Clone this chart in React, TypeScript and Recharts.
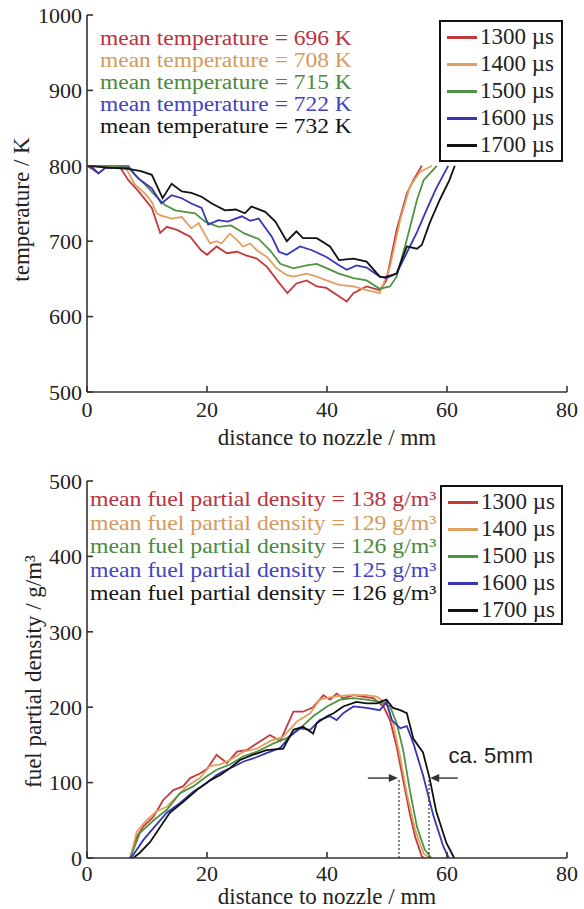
import React from "react";
import {
    LineChart,
    Line,
    XAxis,
    YAxis,
    Legend,
    ReferenceLine,
    ReferenceDot,
} from "recharts";

const SERIF = '"Liberation Serif", "DejaVu Serif", "Noto Serif", serif';
const SANS = '"Liberation Sans", Arial, sans-serif';

const durations = ["1300 µs", "1400 µs", "1500 µs", "1600 µs", "1700 µs"];
const lineColors = ["#c43a3c", "#e0a060", "#4e9443", "#3636b6", "#111111"];
const textColors = ["#b8333d", "#d49a5c", "#4b8a3d", "#4343c2", "#141414"];
const meanTemperatures = [696, 708, 715, 722, 732];
const meanDensities = [138, 129, 126, 125, 126];

const xTicks = [0, 20, 40, 60, 80];
const temperatureTicks = [500, 600, 700, 800, 900, 1000];
const densityTicks = [0, 100, 200, 300, 400, 500];

// [distance mm, temperature K]
const temp1300: [number, number][] = [
    [0, 800], [1, 795], [1.9, 790], [3, 797], [5.5, 798], [6.9, 781], [8.6, 766],
    [10.8, 744], [12.2, 711], [13.3, 719], [15, 715], [16.2, 710], [17.2, 706],
    [19, 688], [20, 682], [21.6, 693], [23.3, 684], [25, 686], [26.6, 681],
    [28.3, 677], [30, 666], [31.6, 649], [33.4, 631], [34.9, 644], [36.6, 648],
    [38.3, 640], [39.9, 638], [41.6, 629], [43.3, 620], [44.4, 631], [46.6, 640],
    [48.8, 635], [49.9, 648], [51.6, 715], [53.3, 763], [54.4, 781], [55.8, 800],
];
const temp1400: [number, number][] = [
    [0, 800], [3, 800], [6.3, 800], [8, 775], [9.7, 763], [10.8, 752], [11.6, 737],
    [12.4, 734], [14.1, 730], [15.8, 732], [17.4, 717], [18.6, 724], [19.7, 708],
    [20.5, 697], [21.6, 700], [22.4, 697], [23.8, 710], [24.8, 703], [26, 693],
    [27.2, 697], [28.3, 688], [30, 679], [31.6, 664], [33.3, 655], [34.4, 653],
    [36.6, 657], [38.3, 653], [39.9, 648], [42, 642], [44.4, 640], [46.6, 635],
    [48.8, 631], [50.5, 666], [52.2, 728], [53.8, 772], [55.5, 792], [57.5, 800],
];
const temp1500: [number, number][] = [
    [0, 800], [3, 800], [6.9, 800], [8, 788], [9.7, 775], [11.3, 761], [13, 748],
    [14.7, 741], [16.3, 739], [18, 737], [19.7, 726], [21.9, 719], [24, 721],
    [26.3, 710], [28.6, 703], [30.5, 688], [32.2, 670], [34.4, 664], [36.6, 668],
    [38.3, 670], [40, 664], [42, 657], [44.4, 651], [46.6, 648], [48.8, 637],
    [50.5, 640], [51.6, 653], [53.3, 702], [55, 755], [56.1, 781], [58.3, 800],
];
const temp1600: [number, number][] = [
    [0, 800], [1, 797], [1.9, 790], [3, 797], [6.9, 798], [8.6, 783], [10.8, 770],
    [12.4, 750], [14.1, 761], [15.8, 757], [17.4, 750], [19.1, 744], [20.2, 722],
    [21.9, 728], [23.5, 726], [25.8, 733], [27.2, 727], [28.6, 730], [30.8, 706],
    [32, 686], [33.3, 682], [35.5, 693], [37.5, 688], [39.9, 679], [42, 668],
    [43.3, 662], [44.9, 668], [46.6, 665], [48.8, 653], [49.9, 651], [51.6, 657],
    [53.5, 688], [55, 712], [56.5, 740], [58.2, 770], [60.2, 800],
];
const temp1700: [number, number][] = [
    [0, 800], [3, 798], [6.9, 796], [9, 793], [10.8, 788], [12.6, 757], [14.1, 776],
    [15.8, 766], [17.4, 764], [19.1, 759], [20.8, 750], [23, 741], [24.8, 742],
    [26.3, 737], [27.4, 746], [29.7, 739], [31.4, 726], [33.3, 700], [34.9, 713],
    [36, 704], [38.3, 704], [40.5, 693], [42, 675], [44.4, 677], [46.6, 673],
    [48.8, 653], [49.6, 652], [51.6, 657], [53.3, 693], [55, 690], [55.8, 695],
    [57.1, 724], [58.8, 755], [60.4, 781], [61.3, 800],
];

// [distance mm, fuel partial density g/m³]
const dens1300: [number, number][] = [
    [7.2, 0], [8.3, 28], [9.4, 42], [11.1, 55], [12.7, 77], [14.4, 90], [16, 95],
    [17.2, 106], [18.8, 112], [20, 118], [21.6, 137], [23.3, 126], [25, 141],
    [26.6, 143], [28.3, 152], [30.5, 163], [32.2, 155], [34.4, 194], [36, 194],
    [37.7, 200], [39.4, 216], [40.5, 210], [41.6, 218], [42.7, 212], [44.4, 216],
    [46, 214], [47.7, 212], [49.4, 201], [50.5, 183], [51.6, 148], [52.7, 103],
    [53.8, 59], [54.7, 28], [55.8, 2], [56.2, 0],
];
const dens1400: [number, number][] = [
    [7.2, 0], [8.3, 35], [9.9, 50], [11.6, 62], [13.3, 68], [14.9, 81], [16.6, 95],
    [18.8, 106], [20.5, 122], [22.2, 124], [23.8, 130], [26.1, 141], [28.3, 145],
    [30.5, 155], [32.7, 161], [35, 181], [37.2, 192], [38.8, 210], [41.1, 214],
    [43.8, 216], [46.6, 216], [48.3, 214], [49.9, 205], [51, 179], [52.2, 134],
    [53.3, 86], [54.7, 37], [56.1, 6], [57, 0],
];
const dens1500: [number, number][] = [
    [7.2, 0], [8.8, 33], [11.1, 50], [13.3, 64], [15.5, 86], [17.7, 95], [19.9, 108],
    [21.6, 117], [23.8, 124], [26.1, 135], [28.3, 141], [31.1, 152], [33.3, 159],
    [35.5, 172], [37.7, 188], [40, 201], [42.2, 210], [44.4, 212], [46.6, 210],
    [48.8, 207], [50.5, 201], [51.6, 179], [52.7, 143], [53.8, 90], [55, 41],
    [56.3, 11], [57.4, 0],
];
const dens1600: [number, number][] = [
    [7.2, 0], [7.7, 4], [9.4, 24], [11.1, 40], [13.3, 60], [15.5, 73], [17.7, 88],
    [19.9, 99], [21.6, 110], [22.7, 115], [24.4, 121], [26.1, 128], [27.7, 132],
    [29.9, 139], [32.2, 146], [33.8, 161], [35.5, 172], [37.2, 170], [38.8, 183],
    [40.5, 188], [41.6, 183], [42.7, 192], [44.4, 201], [46.6, 199], [48.8, 196],
    [49.9, 207], [50.8, 183], [52.2, 172], [53.3, 175], [54.4, 152], [56, 110],
    [57.7, 57], [59.4, 15], [60.3, 0],
];
const dens1700: [number, number][] = [
    [7.2, 0], [7.7, 0], [8.8, 7], [10.5, 21], [12.2, 41], [13.8, 60], [16.1, 75],
    [18.3, 90], [20.5, 103], [22.2, 110], [23.8, 119], [25.5, 130], [27.7, 137],
    [29.9, 143], [32.7, 145], [34.4, 170], [36, 174], [37.7, 165], [38.3, 179],
    [40, 188], [41.1, 192], [42.7, 201], [44.9, 207], [46.6, 205], [48.3, 205],
    [49.9, 210], [51, 199], [52.2, 196], [53.3, 192], [54.4, 158], [56, 140],
    [57.1, 106], [58.2, 62], [59.9, 20], [61.2, 0],
];

const temperatureSeries = [temp1300, temp1400, temp1500, temp1600, temp1700];
const densitySeries = [dens1300, dens1400, dens1500, dens1600, dens1700];

const toPoints = (rows: [number, number][]) => rows.map(([x, y]) => ({ x, y }));

const tickStyle = { fill: "#222", fontSize: 22, fontFamily: SERIF };
const titleStyle = { fill: "#222", fontSize: 23, fontFamily: SERIF };
const frame = { stroke: "#333", strokeWidth: 1.6 };

function XTitle({ viewBox, text, offset }: any) {
    const { x, y, width, height } = viewBox;
    return (
        <text x={x + width / 2} y={y + height - offset} textAnchor="middle" style={titleStyle}>
            {text}
        </text>
    );
}

function YTitle({ viewBox, text, baseX, shift }: any) {
    const { x, y, height } = viewBox;
    const cx = x + baseX;
    const cy = y + height / 2 + shift;
    return (
        <text x={cx} y={cy} textAnchor="middle" transform={`rotate(-90, ${cx}, ${cy})`} style={titleStyle}>
            {text}
        </text>
    );
}

function Arrow({ x1, y1, x2, y2 }: any) {
    const dir = x2 > x1 ? 1 : -1;
    return (
        <g>
            <line x1={x1} y1={y1} x2={x2 - dir * 2} y2={y2} stroke="#333" strokeWidth={1.4} />
            <polygon
                points={`${x2},${y2} ${x2 - dir * 9},${y2 - 4} ${x2 - dir * 9},${y2 + 4}`}
                fill="#333"
            />
        </g>
    );
}

interface LegendLayout {
    meanLines: string[];
    meanLeft: number;
    meanBase: number;
    meanGap: number;
    meanSize: number;
    meanStretch: number;
    box: { left: number; top: number; width: number; height: number };
    entryBase: number;
    entryGap: number;
    sampleLeft: number;
    textLeft: number;
}

function LegendBlock({ payload, layout }: { payload: any[]; layout: LegendLayout }) {
    const items = payload && payload.length ? payload : durations.map((d, i) => ({ value: d, color: lineColors[i] }));
    const { box } = layout;
    const lh = Math.floor(layout.meanSize);
    // baseline offset inside a line box of height lh (Times metrics)
    const baseOffset = (lh - 1.107 * layout.meanSize) / 2 + 0.891 * layout.meanSize;
    return (
        <div style={{ position: "relative", fontFamily: SERIF }}>
            {layout.meanLines.map((t, i) => (
                <div
                    key={t + i}
                    style={{
                        position: "absolute",
                        left: layout.meanLeft,
                        top: layout.meanBase + i * layout.meanGap - baseOffset,
                        height: lh,
                        fontSize: layout.meanSize,
                        lineHeight: `${lh}px`,
                        color: textColors[i],
                        whiteSpace: "nowrap",
                        transform: `scaleX(${layout.meanStretch})`,
                        transformOrigin: "left center",
                    }}
                >
                    {t}
                </div>
            ))}
            <div
                style={{
                    position: "absolute",
                    left: box.left,
                    top: box.top,
                    width: box.width,
                    height: box.height,
                    border: "2px solid #111",
                    boxSizing: "border-box",
                }}
            />
            {items.map((p: any, i: number) => (
                <React.Fragment key={p.value}>
                    <div
                        style={{
                            position: "absolute",
                            left: layout.sampleLeft,
                            top: layout.entryBase + i * layout.entryGap - 8,
                            width: 30,
                            height: 2.5,
                            background: p.color,
                        }}
                    />
                    <div
                        style={{
                            position: "absolute",
                            left: layout.textLeft,
                            top: layout.entryBase + i * layout.entryGap - 19.3,
                            fontSize: 23,
                            lineHeight: 1,
                            color: "#222",
                            whiteSpace: "nowrap",
                        }}
                    >
                        {p.value}
                    </div>
                </React.Fragment>
            ))}
        </div>
    );
}

const topLegend: LegendLayout = {
    meanLines: meanTemperatures.map((m) => `mean temperature = ${m} K`),
    meanLeft: 100,
    meanBase: 45,
    meanGap: 22,
    meanSize: 20.5,
    meanStretch: 1.145,
    box: { left: 439, top: 20, width: 124, height: 142 },
    entryBase: 44,
    entryGap: 27,
    sampleLeft: 447,
    textLeft: 480,
};

const bottomLegend: LegendLayout = {
    meanLines: meanDensities.map((m) => `mean fuel partial density = ${m} g/m³`),
    meanLeft: 90,
    meanBase: 57,
    meanGap: 23.5,
    meanSize: 21.5,
    meanStretch: 1.105,
    box: { left: 440, top: 35, width: 123, height: 140 },
    entryBase: 59,
    entryGap: 27,
    sampleLeft: 448,
    textLeft: 481,
};

export default function App() {
    return (
        <div style={{ position: "absolute", left: 0, top: 0, width: 584, height: 909, background: "#fff" }}>
            <LineChart width={584} height={450} margin={{ top: 15, right: 17, left: 0, bottom: 0 }}>
                <XAxis
                    type="number"
                    dataKey="x"
                    domain={[0, 80]}
                    ticks={xTicks}
                    allowDataOverflow
                    height={58}
                    tickSize={-6}
                    tickMargin={15}
                    tick={tickStyle}
                    axisLine={frame}
                    tickLine={frame}
                    label={<XTitle text="distance to nozzle / mm" offset={6} />}
                />
                <XAxis
                    xAxisId="top"
                    orientation="top"
                    type="number"
                    domain={[0, 80]}
                    ticks={xTicks}
                    height={0}
                    tickSize={-6}
                    tick={false}
                    axisLine={frame}
                    tickLine={frame}
                />
                <YAxis
                    type="number"
                    domain={[500, 1000]}
                    ticks={temperatureTicks}
                    allowDataOverflow
                    width={87}
                    tickSize={-6}
                    tickMargin={11}
                    tick={tickStyle}
                    axisLine={frame}
                    tickLine={frame}
                    label={<YTitle text="temperature / K" baseX={29} shift={6} />}
                />
                <YAxis
                    yAxisId="right"
                    orientation="right"
                    type="number"
                    domain={[500, 1000]}
                    ticks={temperatureTicks}
                    width={0}
                    tickSize={-6}
                    tick={false}
                    axisLine={frame}
                    tickLine={frame}
                />
                {temperatureSeries.map((s, i) => (
                    <Line
                        key={durations[i]}
                        data={toPoints(s)}
                        dataKey="y"
                        name={durations[i]}
                        type="linear"
                        stroke={lineColors[i]}
                        strokeWidth={1.8}
                        dot={false}
                        isAnimationActive={false}
                    />
                ))}
                <Legend
                    layout="vertical"
                    align="center"
                    verticalAlign="middle"
                    wrapperStyle={{ left: 0, top: 0, width: 584, height: 0 }}
                    content={(props: any) => <LegendBlock payload={props.payload} layout={topLegend} />}
                />
            </LineChart>
            <LineChart width={584} height={459} margin={{ top: 31, right: 17, left: 0, bottom: 0 }}>
                <XAxis
                    type="number"
                    dataKey="x"
                    domain={[0, 80]}
                    ticks={xTicks}
                    allowDataOverflow
                    height={51}
                    tickSize={-6}
                    tickMargin={13}
                    tick={tickStyle}
                    axisLine={frame}
                    tickLine={frame}
                    label={<XTitle text="distance to nozzle / mm" offset={3} />}
                />
                <XAxis
                    xAxisId="top"
                    orientation="top"
                    type="number"
                    domain={[0, 80]}
                    ticks={xTicks}
                    height={0}
                    tickSize={-6}
                    tick={false}
                    axisLine={frame}
                    tickLine={frame}
                />
                <YAxis
                    type="number"
                    domain={[0, 500]}
                    ticks={densityTicks}
                    allowDataOverflow
                    width={87}
                    tickSize={-6}
                    tickMargin={11}
                    tick={tickStyle}
                    axisLine={frame}
                    tickLine={frame}
                    label={<YTitle text="fuel partial density / g/m³" baseX={41} shift={2} />}
                />
                <YAxis
                    yAxisId="right"
                    orientation="right"
                    type="number"
                    domain={[0, 500]}
                    ticks={densityTicks}
                    width={0}
                    tickSize={-6}
                    tick={false}
                    axisLine={frame}
                    tickLine={frame}
                />
                {densitySeries.map((s, i) => (
                    <Line
                        key={durations[i]}
                        data={toPoints(s)}
                        dataKey="y"
                        name={durations[i]}
                        type="linear"
                        stroke={lineColors[i]}
                        strokeWidth={1.8}
                        dot={false}
                        isAnimationActive={false}
                    />
                ))}
                <ReferenceLine
                    segment={[{ x: 52, y: 0 }, { x: 52, y: 106 }]}
                    stroke="#333"
                    strokeWidth={1.2}
                    strokeDasharray="2 2"
                />
                <ReferenceLine
                    segment={[{ x: 57, y: 0 }, { x: 57, y: 106 }]}
                    stroke="#333"
                    strokeWidth={1.2}
                    strokeDasharray="2 2"
                />
                <ReferenceLine segment={[{ x: 46.8, y: 106 }, { x: 51.8, y: 106 }]} shape={<Arrow />} />
                <ReferenceLine segment={[{ x: 61.8, y: 106 }, { x: 57.2, y: 106 }]} shape={<Arrow />} />
                <ReferenceDot
                    x={67.3}
                    y={137}
                    r={0}
                    fill="none"
                    stroke="none"
                    label={{ value: "ca. 5mm", position: "center", fill: "#222", fontSize: 22, fontFamily: SANS }}
                />
                <Legend
                    layout="vertical"
                    align="center"
                    verticalAlign="middle"
                    wrapperStyle={{ left: 0, top: 0, width: 584, height: 0 }}
                    content={(props: any) => <LegendBlock payload={props.payload} layout={bottomLegend} />}
                />
            </LineChart>
        </div>
    );
}
